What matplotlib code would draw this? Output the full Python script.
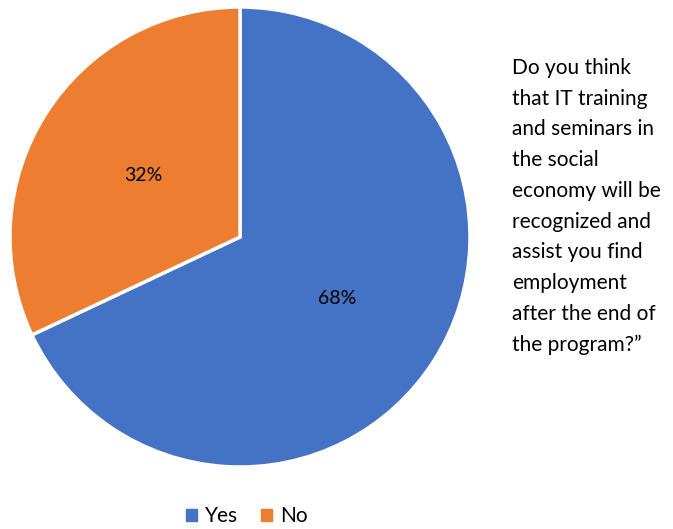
import matplotlib.pyplot as plt
import matplotlib.patches as mpatches

plt.rcParams['font.family'] = ['Lato', 'DejaVu Sans']

labels = ['Yes', 'No']
shares = [68, 32]
colors = ['#4472C4', '#ED7D31']
question = ('Do you think\nthat IT training\nand seminars in\nthe social\n'
            'economy will be\nrecognized and\nassist you find\nemployment\n'
            'after the end of\nthe program?\u201d')

fig = plt.figure(figsize=(6.73, 5.29), dpi=100)
ax = fig.add_axes([10 / 673, 62 / 529, 460 / 673, 460 / 529])

wedges, texts, autotexts = ax.pie(shares, colors=colors, startangle=90, counterclock=False,
                                  autopct='%1.0f%%', pctdistance=0.5, radius=1,
                                  wedgeprops=dict(edgecolor='white', linewidth=2.5),
                                  textprops=dict(fontsize=14, color='#000000'))
ax.set_xlim(-1.0, 1.0)
ax.set_ylim(-1.0, 1.0)
ax.set_aspect('equal')
ax.axis('off')

fig.text(512 / 673, 1 - 58 / 529, question, fontsize=15, va='top', ha='left',
         linespacing=1.67, color='#000000')

handles = [mpatches.Patch(color=c, label=l) for c, l in zip(colors, labels)]
fig.legend(handles=handles, loc='center', bbox_to_anchor=(247 / 673, 1 - 516 / 529), ncol=2,
           frameon=False, fontsize=15, handlelength=0.5, handleheight=0.5,
           handletextpad=0.4, columnspacing=1.1)

fig.savefig('out.png', dpi=100)
